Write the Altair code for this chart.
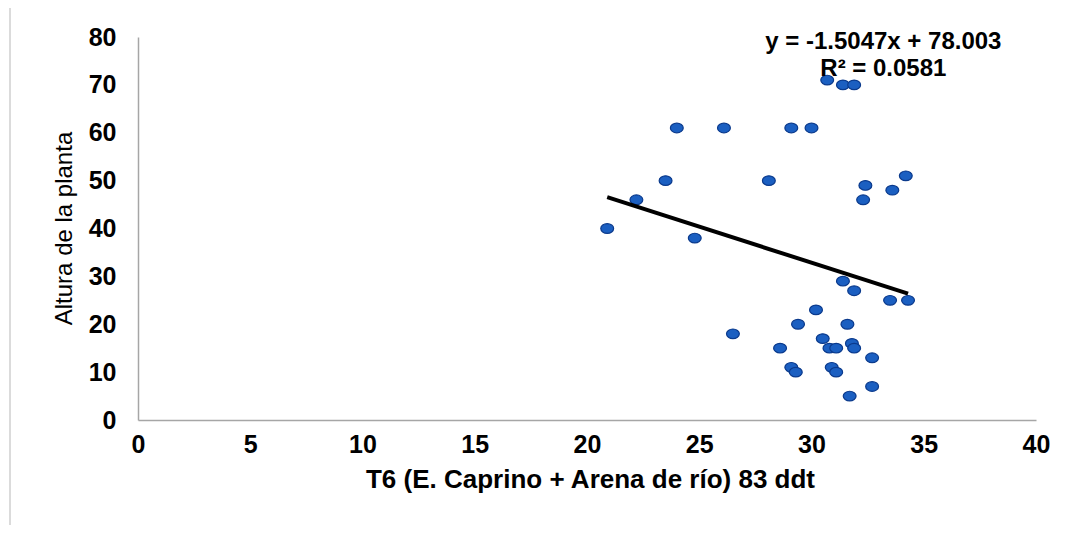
import altair as alt
import pandas as pd
import numpy as np

# Data
x_vals = [20.9, 22.2, 23.5, 24.0, 24.8, 26.1, 26.5, 28.1, 28.6, 29.1,
          29.1, 29.3, 29.4, 30.0, 30.2, 30.5, 30.7, 30.8, 31.1, 30.9,
          31.1, 31.4, 31.4, 31.6, 31.7, 31.8, 31.9, 31.9, 31.9, 32.3,
          32.4, 32.7, 32.7, 33.5, 33.6, 34.2, 34.3]
y_vals = [40, 46, 50, 61, 38, 61, 18, 50, 15, 61,
          11, 10, 20, 61, 23, 17, 71, 15, 15, 11,
          10, 70, 29, 20, 5, 16, 15, 70, 27, 46,
          49, 13, 7, 25, 48, 51, 25]

slope = -1.5047
intercept = 78.003
eq_lines = ["y = -1.5047x + 78.003", "R² = 0.0581"]
x_ticks = [0, 5, 10, 15, 20, 25, 30, 35, 40]
y_ticks = [0, 10, 20, 30, 40, 50, 60, 70, 80]

x_title = "T6 (E. Caprino + Arena de río) 83 ddt"
y_title = "Altura de la planta"

pts = pd.DataFrame({"x": x_vals, "y": y_vals})
xmin, xmax = min(x_vals), max(x_vals)
trend = pd.DataFrame({"x": [xmin, xmax],
                      "y": [slope * xmin + intercept, slope * xmax + intercept]})
ann = pd.DataFrame({"t": eq_lines, "x": [33.2, 33.2], "y": [77.4, 71.9]})

W, H = 898, 383
FONT = "Liberation Sans"

xs = alt.Scale(domain=[0, 40], nice=False, zero=False)
ys = alt.Scale(domain=[0, 80], nice=False, zero=False)

x_axis = alt.Axis(values=x_ticks, grid=False, ticks=False, domainColor="#a6a6a6",
                  domainWidth=1.5, labelFont=FONT, labelFontSize=25, labelFontWeight="bold",
                  labelColor="#000000", labelPadding=12, labelFlush=False, title=x_title,
                  titleFont=FONT, titleFontSize=26, titleFontWeight="bold", titleColor="#000000",
                  titleBaseline="alphabetic", titleY=67, titleX=(590 - 138))
y_axis = alt.Axis(values=y_ticks, grid=False, ticks=False, domainColor="#a6a6a6",
                  domainWidth=1.5, labelFont=FONT, labelFontSize=25, labelFontWeight="bold",
                  labelColor="#000000", labelPadding=22, labelFlush=False, title=y_title,
                  titleFont=FONT, titleFontSize=24, titleFontWeight="normal", titleColor="#000000",
                  titleAngle=270, titleBaseline="middle", titleAlign="center",
                  titleX=-74, titleY=191)

ellipse = "M -1 0 A 1 0.75 0 1 1 1 0 A 1 0.75 0 1 1 -1 0 Z"

frame = alt.Chart(pd.DataFrame({"a": [0]})).mark_rect(
    fill=None, stroke="#d0d0d0", strokeWidth=1.5
).encode(x=alt.value(-128), x2=alt.value(W + 200), y=alt.value(-32), y2=alt.value(H + 300))

points = alt.Chart(pts).mark_point(
    shape=ellipse, filled=True, size=165, fill="#1b5fc1", stroke="#0b3a8c",
    strokeWidth=1.2, opacity=1
).encode(x=alt.X("x:Q", scale=xs, axis=x_axis), y=alt.Y("y:Q", scale=ys, axis=y_axis))

line = alt.Chart(trend).mark_line(color="#000000", strokeWidth=4).encode(
    x=alt.X("x:Q", scale=xs), y=alt.Y("y:Q", scale=ys))

text = alt.Chart(ann).mark_text(
    font=FONT, fontSize=24, fontWeight="bold", color="#000000", align="center",
    baseline="alphabetic"
).encode(x=alt.X("x:Q", scale=xs), y=alt.Y("y:Q", scale=ys), text="t:N")

chart = alt.layer(frame, points, line, text).properties(
    width=W, height=H,
    autosize=alt.AutoSizeParams(type="none"),
    padding={"left": 130, "top": 29, "right": 23, "bottom": 105},
    background="#ffffff"
).configure_view(strokeWidth=0)

chart.save("out.html", embed_options={"renderer": "svg", "actions": False})
